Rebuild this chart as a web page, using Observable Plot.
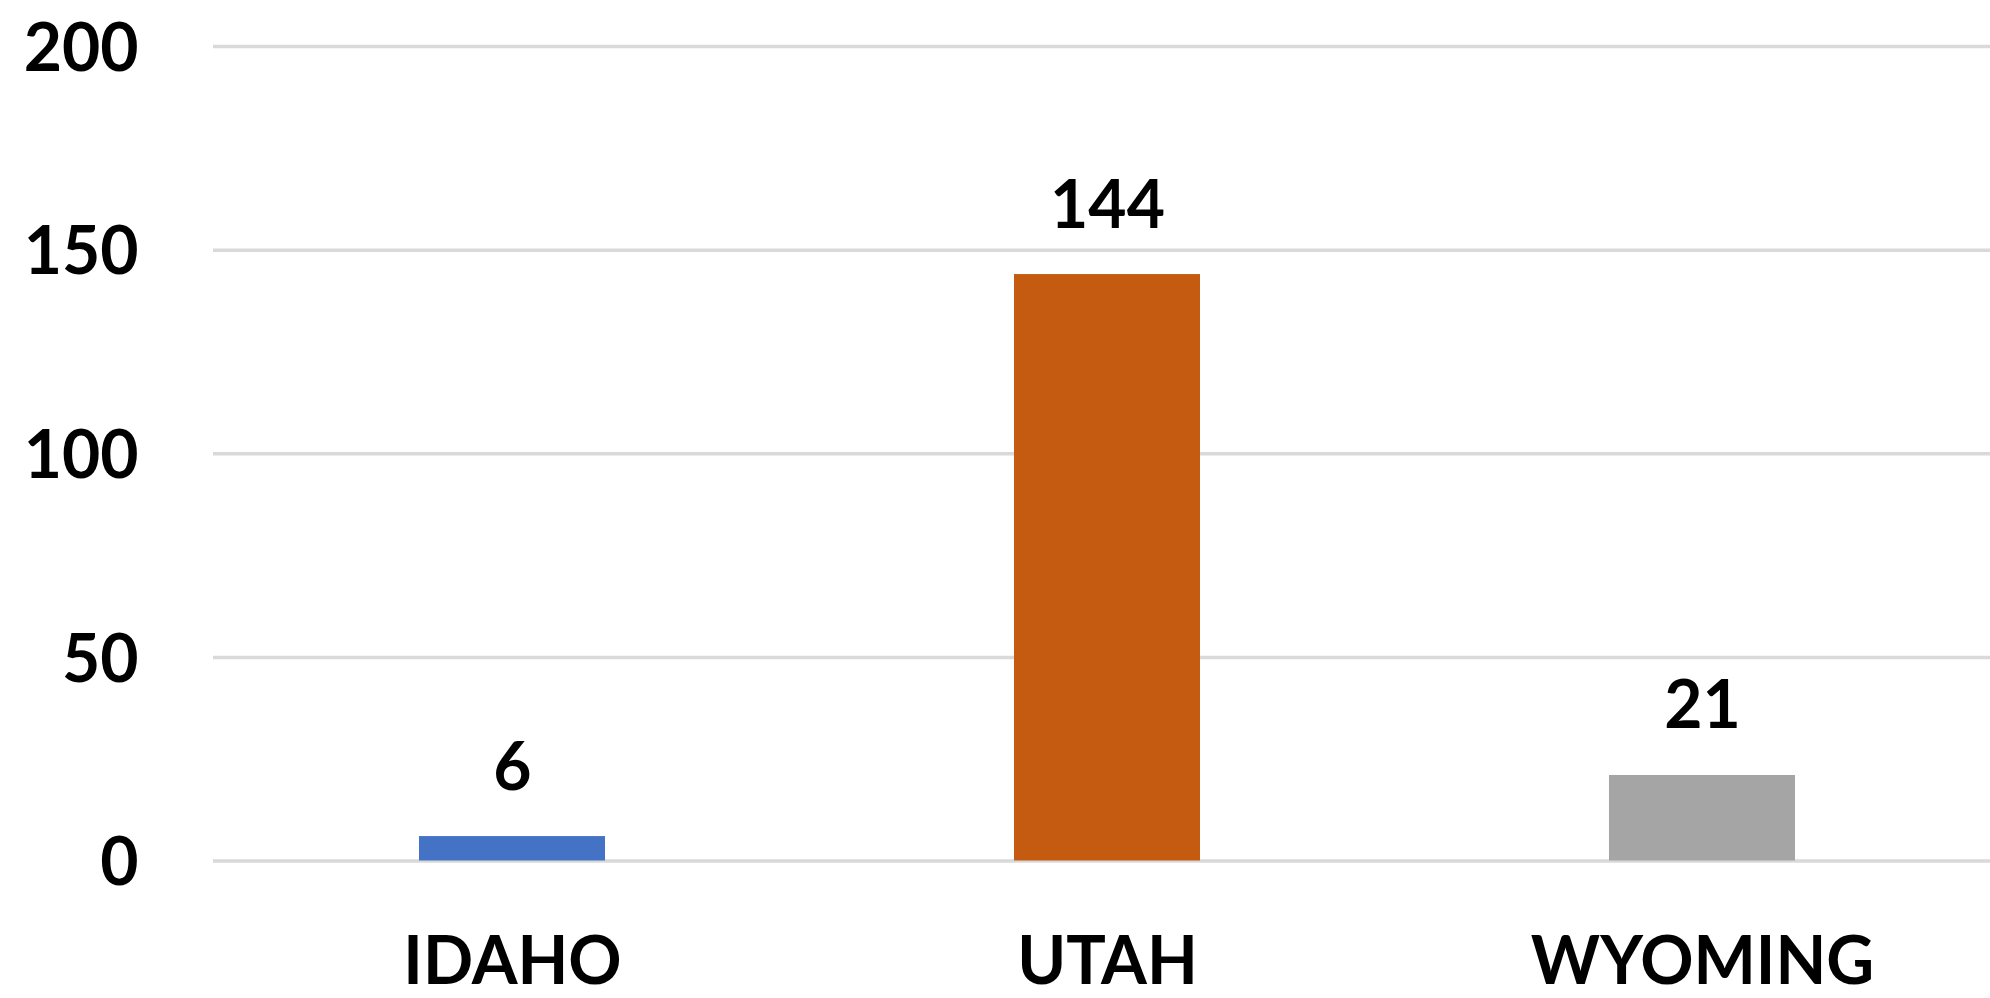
<!DOCTYPE html>
<html>
<head>
<meta charset="utf-8">
<script src="https://cdn.jsdelivr.net/npm/d3@7"></script>
<script src="https://cdn.jsdelivr.net/npm/@observablehq/plot@0.6"></script>
<style>
  html, body { margin: 0; padding: 0; background: #fff; }
  #chart svg { display: block; }
</style>
</head>
<body>
<div id="chart"></div>
<script>
const states = ["IDAHO", "UTAH", "WYOMING"];
const counts = [6, 144, 21];
const colors = ["#4472C4", "#C55A11", "#A5A5A5"];
const yTicks = [0, 50, 100, 150, 200];

const data = states.map((s, i) => ({state: s, count: counts[i], color: colors[i]}));

const font = "Lato, 'Open Sans', sans-serif";
const fs = 66;

const chart = Plot.plot({
  width: 1990,
  height: 998,
  marginLeft: 213,
  marginRight: 0,
  marginTop: 46,
  marginBottom: 137.5,
  style: {fontFamily: font, color: "#000", background: "#fff"},
  x: {domain: states, range: [213, 2000], paddingInner: 0.6877, paddingOuter: 0.344, label: null},
  y: {domain: [0, 200], label: null},
  marks: [
    Plot.ruleY(yTicks, {stroke: "#D9D9D9", strokeWidth: 3.5}),
    Plot.barY(data, {x: "state", y: "count", fill: "color"}),
    Plot.text(data, {x: "state", y: "count", text: d => String(d.count), dy: -47, lineAnchor: "bottom",
      fontSize: fs, fontWeight: "bold", fill: "#000"}),
    Plot.axisY({ticks: yTicks, tickSize: 0, tickPadding: 75, dy: 3, fontSize: fs, fontWeight: "bold", label: null}),
    Plot.axisX({tickSize: 0, tickPadding: 76, fontSize: fs, fontWeight: "bold", label: null})
  ]
});
document.getElementById("chart").appendChild(chart);
</script>
</body>
</html>
